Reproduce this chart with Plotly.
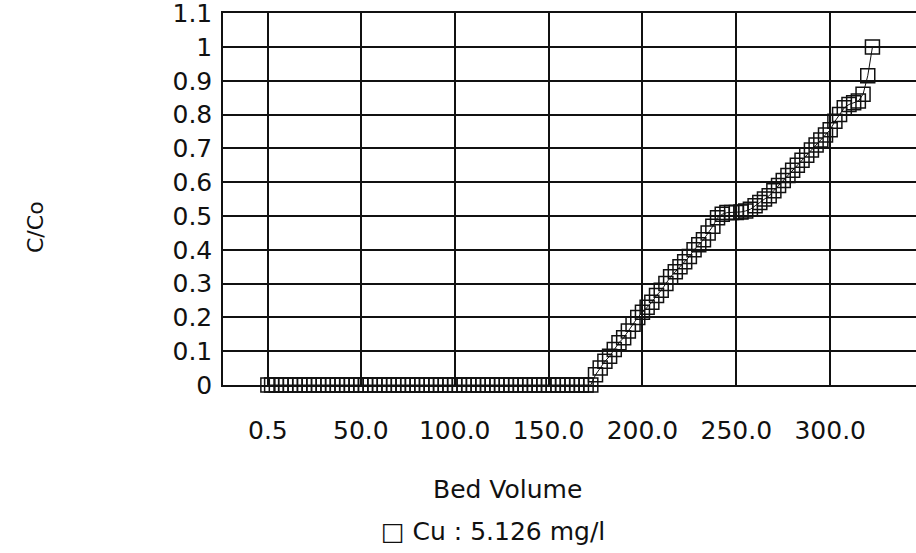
import plotly.graph_objects as go

# ---- data ----
bed_volume = [
    0.5, 2.5, 5.0, 7.5, 10.0, 12.5, 15.0, 17.5, 20.0, 22.5,
    25.0, 27.5, 30.0, 32.5, 35.0, 37.5, 40.0, 42.5, 45.0, 47.5,
    50.0, 52.5, 55.0, 57.5, 60.0, 62.5, 65.0, 67.5, 70.0, 72.5,
    75.0, 77.5, 80.0, 82.5, 85.0, 87.5, 90.0, 92.5, 95.0, 97.5,
    100.0, 102.5, 105.0, 107.5, 110.0, 112.5, 115.0, 117.5, 120.0, 122.5,
    125.0, 127.5, 130.0, 132.5, 135.0, 137.5, 140.0, 142.5, 145.0, 147.5,
    150.0, 152.5, 155.0, 157.5, 160.0, 162.5, 165.0, 167.5, 170.0, 172.5,
    175.0, 177.5, 180.0, 182.5, 185.0, 187.5, 190.0, 192.5, 195.0, 197.5,
    200.0, 202.5, 205.0, 207.5, 210.0, 212.5, 215.0, 217.5, 220.0, 222.5,
    225.0, 227.5, 230.0, 232.5, 235.0, 237.5, 240.0, 242.5, 245.0, 247.5,
    250.0, 252.5, 255.0, 257.5, 260.0, 262.5, 265.0, 267.5, 270.0, 272.5,
    275.0, 277.5, 280.0, 282.5, 285.0, 287.5, 290.0, 292.5, 295.0, 297.5,
    300.0, 302.5, 305.0, 307.5, 310.0, 312.5, 315.0, 317.5, 320.0, 322.5,
]
c_over_co = [
    0, 0, 0, 0, 0, 0, 0, 0, 0, 0,
    0, 0, 0, 0, 0, 0, 0, 0, 0, 0,
    0, 0, 0, 0, 0, 0, 0, 0, 0, 0,
    0, 0, 0, 0, 0, 0, 0, 0, 0, 0,
    0, 0, 0, 0, 0, 0, 0, 0, 0, 0,
    0, 0, 0, 0, 0, 0, 0, 0, 0, 0,
    0, 0, 0, 0, 0, 0, 0, 0, 0, 0,
    0.03, 0.05, 0.07, 0.085, 0.105, 0.125, 0.14, 0.16, 0.18, 0.20,
    0.215, 0.23, 0.245, 0.265, 0.28, 0.30, 0.32, 0.335, 0.35, 0.365,
    0.38, 0.40, 0.415, 0.43, 0.45, 0.47, 0.495, 0.505, 0.51, 0.51,
    0.51, 0.512, 0.515, 0.52, 0.53, 0.54, 0.55, 0.56, 0.575, 0.59,
    0.605, 0.62, 0.635, 0.65, 0.665, 0.68, 0.695, 0.71, 0.725, 0.74,
    0.755, 0.78, 0.80, 0.82, 0.83, 0.835, 0.84, 0.86, 0.915, 1.0,
]
x_tick_vals = [0.5, 50, 100, 150, 200, 250, 300]
x_tick_text = ["0.5", "50.0", "100.0", "150.0", "200.0", "250.0", "300.0"]
y_tick_vals = [0, 0.1, 0.2, 0.3, 0.4, 0.5, 0.6, 0.7, 0.8, 0.9, 1.0, 1.1]
y_tick_text = ["0", "0.1", "0.2", "0.3", "0.4", "0.5", "0.6", "0.7", "0.8", "0.9", "1", "1.1"]
series_name = "Cu : 5.126 mg/l"

FONT = "DejaVu Sans"
INK = "#111111"

fig = go.Figure()
fig.add_trace(go.Scatter(
    x=bed_volume, y=c_over_co, mode="lines+markers", name=series_name,
    line=dict(color=INK, width=1),
    marker=dict(symbol="square-open", size=14, color=INK, line=dict(width=1.5, color=INK)),
    cliponaxis=False, showlegend=False,
))

W, H = 916, 553
L, R, T, B = 223, 0, 13, 168
pw, ph = W - L - R, H - T - B

def px_to_paper(px, py):
    return (px - L) / pw, (H - B - py) / ph

bx, by = px_to_paper(507, 489)
lx, ly = px_to_paper(493, 531)
tx, ty = px_to_paper(36, 227)

fig.add_annotation(text="Bed Volume", x=bx, y=by, xref="paper", yref="paper",
                   showarrow=False, font=dict(family=FONT, size=25, color=INK),
                   xanchor="center", yanchor="middle")
fig.add_annotation(text="\u25a1 " + series_name, x=lx, y=ly, xref="paper", yref="paper",
                   showarrow=False, font=dict(family=FONT, size=25, color=INK),
                   xanchor="center", yanchor="middle")
fig.add_annotation(text="C/Co", x=tx, y=ty, xref="paper", yref="paper", textangle=-90,
                   showarrow=False, font=dict(family=FONT, size=22, color=INK),
                   xanchor="center", yanchor="middle")

fig.update_layout(
    width=W, height=H,
    margin=dict(l=L, r=R, t=T, b=B, pad=0),
    paper_bgcolor="white", plot_bgcolor="white",
    font=dict(family=FONT, size=25, color=INK),
    showlegend=False,
)
fig.update_xaxes(
    range=[-23.4, 345.7], tickvals=x_tick_vals, ticktext=x_tick_text,
    showgrid=True, gridcolor=INK, gridwidth=1.5,
    showline=True, linecolor=INK, linewidth=1.5, mirror=True,
    ticks="", ticklabelstandoff=22, zeroline=False,
    tickfont=dict(family=FONT, size=25, color=INK),
)
fig.update_yaxes(
    range=[0, 1.1006], tickvals=y_tick_vals, ticktext=y_tick_text,
    showgrid=True, gridcolor=INK, gridwidth=1.5,
    showline=True, linecolor=INK, linewidth=1.5,
    ticks="", ticklabelstandoff=4, zeroline=False,
    ticklabeloverflow="allow",
    tickfont=dict(family=FONT, size=25, color=INK),
)

fig.write_html("out.html")
